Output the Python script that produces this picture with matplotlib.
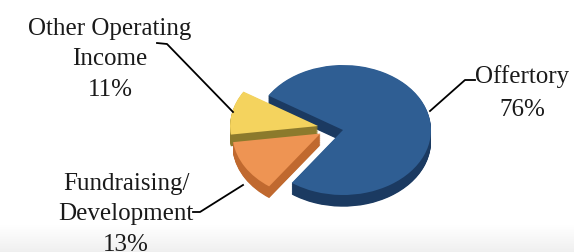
import numpy as np
import matplotlib
matplotlib.use("Agg")
import matplotlib.pyplot as plt

# data
labels = ["Other Operating\nIncome", "Fundraising/\nDevelopment", "Offertory"]
shares = [11, 13, 76]
top_colors = ["#F4D35E", "#EE9453", "#2F5E93"]
side_colors = ["#8C7A2C", "#C0692F", "#1B3A61"]
explode = [0.29, 0.30, 0.0]

W, H = 574, 253
fig = plt.figure(figsize=(W / 100, H / 100), dpi=100)

# background with the light grey band at the bottom
bg = fig.add_axes([0, 0, 1, 1], zorder=0)
bg.set_xlim(0, W)
bg.set_ylim(H, 0)
bg.axis("off")
grad = np.linspace(1.0, 0.94, 50).reshape(-1, 1)
bg.imshow(np.dstack([grad, grad, grad]), extent=(0, W, H, 226), aspect="auto")

# pie axes: squashed vertically to look tilted
cx, cy = 343, 131      # pixel centre of the pie
rx, ry = 88, 65        # pixel radii
ax = fig.add_axes([0, 0, 1, 1], zorder=1)
ax.patch.set_alpha(0)


def lift_orange(wedges):
    # in the 3D original the lower slice sits a little higher than a flat explode gives
    w = wedges[1]
    x0, y0 = w.center
    w.set_center((x0, y0 + 0.1))


depth = 0.18
for d in np.linspace(depth, 0.01, 18):
    wedges, _ = ax.pie(shares, colors=side_colors, startangle=148, explode=explode,
                       center=(0, -d), wedgeprops=dict(linewidth=0))
    lift_orange(wedges)
wedges, _ = ax.pie(shares, colors=top_colors, startangle=148, explode=explode,
                   wedgeprops=dict(linewidth=0))
lift_orange(wedges)

ax.set_aspect("auto")
ax.set_xlim(-cx / rx, (W - cx) / rx)
ax.set_ylim(-(H - cy) / ry, cy / ry)
ax.axis("off")

# labels and leader lines in pixel coordinates
ov = fig.add_axes([0, 0, 1, 1], zorder=2)
ov.patch.set_alpha(0)
ov.set_xlim(0, W)
ov.set_ylim(H, 0)
ov.axis("off")

font = dict(family="Liberation Serif", fontsize=18, color="#1a1a1a",
            ha="center", va="baseline")
lab_lines = [
    (["Other Operating", "Income", f"{shares[0]}%"], 110, [35, 65, 96]),
    (["Fundraising/", "Development", f"{shares[1]}%"], 126, [190, 220, 251]),
    (["Offertory", f"{shares[2]}%"], 522, [83, 116]),
]
for lines, x, ys in lab_lines:
    for t, y in zip(lines, ys):
        ov.text(x, y, t, **font)

ov.plot([157, 167, 233], [44, 45, 113], color="black", lw=1.3)
ov.plot([193, 200, 243], [213, 213, 186], color="black", lw=1.3)
ov.plot([475, 465, 430], [81, 81, 112], color="black", lw=1.3)

fig.savefig("out.png", dpi=100)
